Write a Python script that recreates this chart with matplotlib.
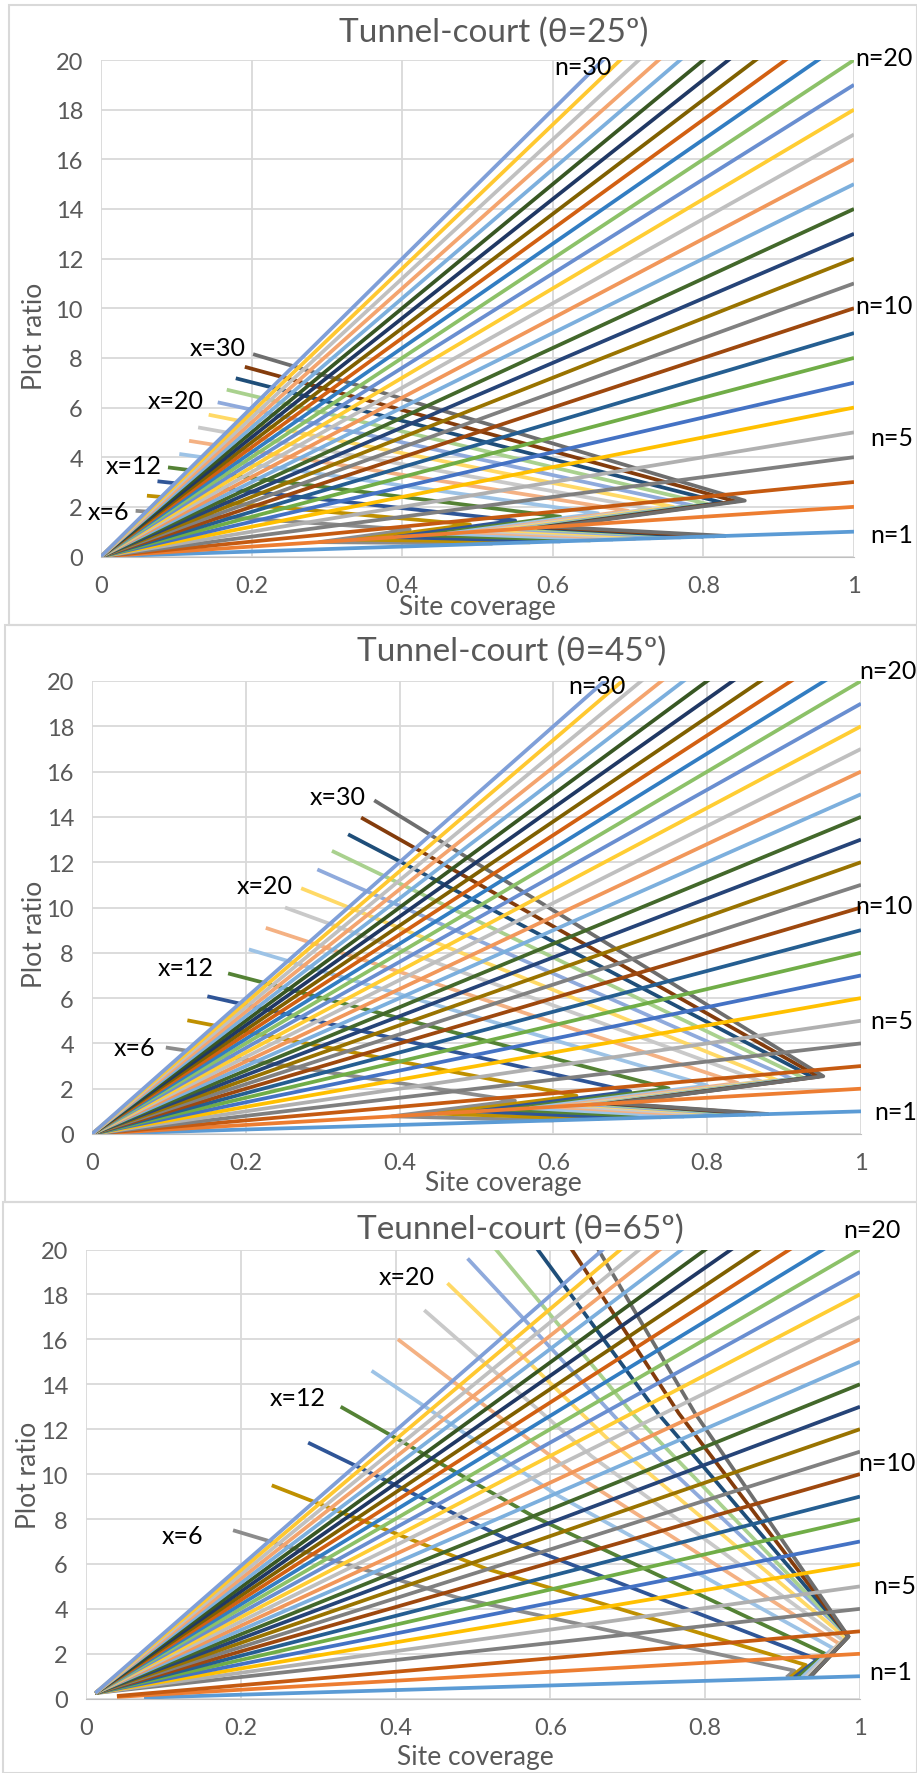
import matplotlib
matplotlib.use("Agg")
import matplotlib.pyplot as plt
from matplotlib.patches import Rectangle

W, H = 917, 1774
FONT = ["Lato", "DejaVu Sans"]

# n lines (floors) : plot ratio = n * site coverage, drawn to site coverage 1
n_values = list(range(1, 31))
n_colors = ["#5B9BD5", "#ED7D31", "#C55A11", "#7F7F7F", "#B0B0B0", "#FFC000",
            "#4472C4", "#70AD47", "#255E91", "#9E480E", "#808080", "#997300",
            "#264478", "#43682B", "#7CAFDD", "#F1975A", "#BFBFBF", "#FFCD33",
            "#698ED0", "#8CC168", "#327DC2", "#D26012", "#7F6000", "#203864",
            "#385723", "#7CAFDD", "#F4A46E", "#C0C0C0", "#FFC830", "#7F9FD8"]
n_start_25 = [(0.0, 0.0)] * 30
n_start_45 = [(0.0, 0.0)] * 30
n_start_65 = [(0.075, 0.05), (0.04, 0.08), (0.04, 0.12)] + [(0.012, 0.25)] * 27

# x curves
x_values = [6, 8, 10, 12, 14, 16, 18, 20, 22, 24, 26, 28, 30]
x_colors = ["#8C8C8C", "#BF9000", "#2F5597", "#548235", "#9DC3E6", "#F4B183",
            "#C9C9C9", "#FFD966", "#8FAADC", "#A9D18E", "#1F4E79", "#843C0C",
            "#6E6E6E"]

# theta = 25
p25_start_cov = [0.046, 0.061, 0.075, 0.089, 0.104, 0.117, 0.129, 0.143, 0.155, 0.167, 0.179, 0.191, 0.202]
p25_start_pr = [1.84, 2.45, 3.03, 3.59, 4.13, 4.66, 5.20, 5.71, 6.21, 6.72, 7.18, 7.64, 8.15]
p25_tip_cov = [0.41, 0.49, 0.55, 0.61, 0.66, 0.70, 0.73, 0.76, 0.785, 0.805, 0.825, 0.843, 0.855]
p25_tip_pr = [1.08, 1.29, 1.45, 1.60, 1.74, 1.84, 1.92, 2.00, 2.06, 2.12, 2.17, 2.22, 2.25]
p25_back_cov = [0.29, 0.34, 0.39, 0.43, 0.46, 0.49, 0.51, 0.53, 0.55, 0.565, 0.58, 0.59, 0.60]
p25_back_pr = [0.58, 0.68, 0.78, 0.86, 0.92, 0.98, 1.02, 1.06, 1.10, 1.13, 1.16, 1.18, 1.20]
p25_end_cov = [0.52, 0.57, 0.61, 0.65, 0.68, 0.71, 0.73, 0.75, 0.77, 0.79, 0.80, 0.815, 0.83]
p25_end_pr = [0.52, 0.57, 0.61, 0.65, 0.68, 0.71, 0.73, 0.75, 0.77, 0.79, 0.80, 0.815, 0.83]

# theta = 45
p45_start_cov = [0.096, 0.124, 0.150, 0.177, 0.204, 0.226, 0.251, 0.272, 0.293, 0.312, 0.333, 0.350, 0.367]
p45_start_pr = [3.82, 5.02, 6.08, 7.09, 8.15, 9.10, 10.0, 10.85, 11.68, 12.50, 13.23, 13.97, 14.73]
p45_tip_cov = [0.55, 0.63, 0.70, 0.75, 0.80, 0.84, 0.87, 0.89, 0.91, 0.925, 0.937, 0.945, 0.951]
p45_tip_pr = [1.47, 1.69, 1.88, 2.01, 2.14, 2.25, 2.33, 2.39, 2.44, 2.48, 2.51, 2.53, 2.55]
p45_back_cov = [0.39, 0.45, 0.50, 0.54, 0.57, 0.60, 0.62, 0.64, 0.65, 0.66, 0.67, 0.675, 0.68]
p45_back_pr = [0.78, 0.90, 1.00, 1.08, 1.14, 1.20, 1.24, 1.28, 1.30, 1.32, 1.34, 1.35, 1.36]
p45_end_cov = [0.60, 0.66, 0.70, 0.74, 0.77, 0.80, 0.82, 0.84, 0.85, 0.86, 0.87, 0.875, 0.88]
p45_end_pr = [0.60, 0.66, 0.70, 0.74, 0.77, 0.80, 0.82, 0.84, 0.85, 0.86, 0.87, 0.875, 0.88]

# theta = 65
p65_start_cov = [0.190, 0.240, 0.287, 0.329, 0.369, 0.403, 0.437, 0.467, 0.493, 0.520, 0.575, 0.620, 0.655]
p65_start_pr = [7.50, 9.50, 11.4, 13.0, 14.6, 16.0, 17.3, 18.5, 19.6, 20.4, 20.4, 20.4, 20.4]
p65_mid_cov = [0.48, 0.516, 0.55, 0.579, 0.607, 0.631, 0.653, 0.673, 0.690, 0.706, 0.739, 0.766, 0.787]
p65_mid_pr = [4.5, 5.8, 7.0, 8.1, 9.1, 10.0, 10.8, 11.6, 12.3, 12.7, 12.7, 12.7, 12.7]
p65_tip_cov = [0.915, 0.93, 0.945, 0.955, 0.965, 0.973, 0.978, 0.982, 0.985, 0.985, 0.985, 0.985, 0.985]
p65_tip_pr = [1.25, 1.50, 1.75, 2.00, 2.25, 2.45, 2.60, 2.70, 2.77, 2.77, 2.77, 2.77, 2.77]
p65_end_cov = [0.905, 0.91, 0.915, 0.92, 0.925, 0.93, 0.93, 0.935, 0.935, 0.935, 0.935, 0.935, 0.935]
p65_end_pr = [0.95] * 13

x_ticks = [0, 0.2, 0.4, 0.6, 0.8, 1]
x_ticklabels = ["0", "0.2", "0.4", "0.6", "0.8", "1"]
y_ticks = list(range(0, 21, 2))


def fx(px):
    return px / W


def fy(py):
    return 1 - py / H


fig = plt.figure(figsize=(W / 100, H / 100), dpi=100)
fig.patch.set_facecolor("white")

# chart borders
for (x0, y0, x1, y1) in [(9, 6, 917, 626), (5, 626, 917, 1203), (3, 1203, 917, 1774)]:
    fig.patches.append(Rectangle((fx(x0), fy(y1)), fx(x1 - x0), (y1 - y0) / H,
                                 transform=fig.transFigure, fill=False,
                                 edgecolor="#D9D9D9", lw=1.5))


def make_panel(box, title, title_xy, xlabel_xy, ylabel_xy, n_start, curves,
               labels):
    left, top, right, bottom = box
    ax = fig.add_axes([fx(left), fy(bottom), fx(right - left), (bottom - top) / H])
    ax.set_xlim(0, 1)
    ax.set_ylim(0, 20)
    ax.set_xticks(x_ticks)
    ax.set_xticklabels(x_ticklabels)
    ax.set_yticks(y_ticks)
    ax.grid(True, color="#D9D9D9", lw=1.3)
    ax.set_axisbelow(True)
    for s in ["top", "right", "left"]:
        ax.spines[s].set_visible(False)
    ax.spines["bottom"].set_color("#BFBFBF")
    ax.tick_params(length=0, labelsize=17, labelcolor="#595959", pad=13)
    for lab in ax.get_xticklabels() + ax.get_yticklabels():
        lab.set_family(FONT)

    # x curves
    for pts, col in zip(curves, x_colors):
        cs = [p[0] for p in pts]
        ps = [p[1] for p in pts]
        ax.plot(cs, ps, color=col, lw=2.7, solid_capstyle="butt")
    # n lines
    for n, col, st in zip(n_values, n_colors, n_start):
        ax.plot([st[0], 1.0], [st[1], n], color=col, lw=2.7,
                solid_capstyle="butt")

    for txt, c, p in labels:
        ax.text(c, p, txt, fontsize=18, family=FONT, color="black",
                ha="center", va="center", clip_on=False)

    fig.text(fx(title_xy[0]), fy(title_xy[1]), title, fontsize=24,
             family=FONT, color="#595959", ha="center", va="center")
    fig.text(fx(xlabel_xy[0]), fy(xlabel_xy[1]), "Site coverage", fontsize=19,
             family=FONT, color="#595959", ha="center", va="center")
    fig.text(fx(ylabel_xy[0]), fy(ylabel_xy[1]), "Plot ratio", fontsize=19,
             family=FONT, color="#595959", ha="center", va="center",
             rotation=90)
    return ax


def build(*cols):
    # join the key points of each x curve into one polyline
    out = []
    for i in range(len(x_values)):
        out.append([(cols[k][i], cols[k + 1][i]) for k in range(0, len(cols), 2)])
    return out


curves25 = build(p25_start_cov, p25_start_pr, p25_tip_cov, p25_tip_pr,
                 p25_back_cov, p25_back_pr, p25_end_cov, p25_end_pr)
curves45 = build(p45_start_cov, p45_start_pr, p45_tip_cov, p45_tip_pr,
                 p45_back_cov, p45_back_pr, p45_end_cov, p45_end_pr)
curves65 = build(p65_start_cov, p65_start_pr, p65_mid_cov, p65_mid_pr,
                 p65_tip_cov, p65_tip_pr, p65_end_cov, p65_end_pr)

labels25 = [("n=30", 0.64, 19.75), ("n=20", 1.04, 20.1), ("n=10", 1.04, 10.1),
            ("n=5", 1.05, 4.8), ("n=1", 1.05, 0.87), ("x=30", 0.155, 8.4),
            ("x=20", 0.099, 6.3), ("x=12", 0.043, 3.66), ("x=6", 0.01, 1.8)]
labels45 = [("n=30", 0.656, 19.8), ("n=20", 1.035, 20.45), ("n=10", 1.03, 10.1),
            ("n=5", 1.04, 5.0), ("n=1", 1.045, 1.0), ("x=30", 0.32, 14.9),
            ("x=20", 0.224, 10.95), ("x=12", 0.122, 7.35), ("x=6", 0.055, 3.8)]
labels65 = [("n=20", 1.015, 20.9), ("n=10", 1.035, 10.5), ("n=5", 1.045, 5.05),
            ("n=1", 1.04, 1.2), ("x=20", 0.414, 18.8), ("x=12", 0.274, 13.4),
            ("x=6", 0.125, 7.25)]

make_panel((101, 61, 854, 557.5), "Tunnel-court (\u03b8=25\u00ba)", (494, 33),
           (477, 607), (34, 336), n_start_25, curves25, labels25)
make_panel((92, 682, 861, 1135), "Tunnel-court (\u03b8=45\u00ba)", (512, 652),
           (503, 1184), (35, 934), n_start_45, curves45, labels45)
make_panel((86, 1250.5, 860, 1699.7), "Teunnel-court (\u03b8=65\u00ba)", (520, 1230),
           (475, 1758), (28, 1475), n_start_65, curves65, labels65)

fig.savefig("out.png", dpi=100, facecolor="white")
